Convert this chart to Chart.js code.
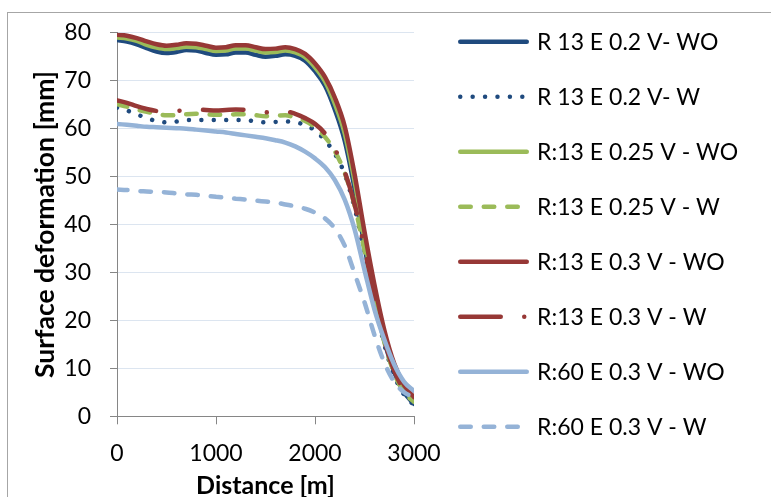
<!DOCTYPE html>
<html>
<head>
<meta charset="utf-8">
<script src="https://cdn.jsdelivr.net/npm/chart.js@4.4.1/dist/chart.umd.min.js"></script>
<style>
  html, body { margin: 0; padding: 0; background: #ffffff; }
  #wrap { position: relative; width: 771px; height: 497px; overflow: hidden; }
  #frame { position: absolute; left: 7px; top: 12px; width: 900px; height: 700px; border: 1px solid #a6a6a6; }
  #c { position: absolute; left: 0; top: 0; }
</style>
</head>
<body>
<div id="wrap">
  <div id="frame"></div>
  <canvas id="c" width="771" height="497"></canvas>
</div>
<script>
// Distance along the profile [m]
const distance = [0, 100, 200, 300, 400, 500, 600, 700, 800, 900, 1000,
  1100, 1200, 1300, 1400, 1500, 1600, 1700, 1800, 1900, 2000,
  2100, 2200, 2300, 2400, 2500, 2600, 2700, 2800, 2900, 3000];

// Surface deformation [mm] for each case
const r13e02WO = [78.5, 78.2, 77.6, 76.8, 76.1, 75.8, 76.0, 76.4, 76.3, 75.8, 75.4,
  75.5, 75.9, 75.9, 75.4, 75.0, 75.2, 75.5, 75.2, 74.2, 72.0,
  69.0, 64.0, 57.5, 47.5, 35.5, 24.5, 15.7, 9.2, 5.0, 2.6];
const r13e02W = [64.4, 63.8, 63.0, 62.2, 61.6, 61.3, 61.5, 61.8, 61.8, 61.8, 61.8,
  61.8, 61.8, 61.8, 61.5, 61.3, 61.4, 61.5, 61.3, 60.8, 59.6,
  57.6, 54.8, 50.5, 43.5, 34.0, 24.0, 15.0, 8.5, 4.5, 2.3];
const r13e025WO = [79.0, 78.8, 78.3, 77.5, 76.9, 76.6, 76.8, 77.1, 77.0, 76.6, 76.2,
  76.3, 76.7, 76.7, 76.3, 75.9, 76.0, 76.3, 75.9, 74.9, 72.8,
  69.9, 65.2, 59.0, 49.0, 37.0, 26.0, 16.8, 10.0, 5.8, 3.2];
const r13e025W = [65.1, 64.6, 64.0, 63.5, 63.1, 62.8, 62.8, 63.0, 63.1, 63.0, 62.9,
  62.9, 63.0, 63.0, 62.8, 62.6, 62.7, 62.8, 62.3, 61.6, 60.3,
  58.3, 55.3, 50.8, 44.0, 34.5, 24.5, 15.5, 9.0, 5.0, 3.0];
const r13e03WO = [79.6, 79.4, 78.9, 78.2, 77.6, 77.3, 77.5, 77.8, 77.7, 77.3, 76.9,
  77.0, 77.4, 77.4, 77.0, 76.6, 76.7, 77.0, 76.6, 75.6, 73.6,
  70.8, 66.5, 60.5, 50.5, 38.5, 27.5, 18.0, 11.0, 6.5, 4.0];
const r13e03W = [65.9, 65.4, 64.7, 64.1, 63.7, 63.6, 63.7, 63.9, 64.0, 63.9, 63.8,
  63.9, 64.0, 63.9, 63.6, 63.4, 63.5, 63.6, 63.1, 62.2, 61.0,
  59.0, 55.8, 51.0, 44.2, 35.0, 25.0, 16.0, 9.5, 5.5, 3.5];
const r60e03WO = [61.0, 60.8, 60.6, 60.4, 60.3, 60.2, 60.1, 60.0, 59.8, 59.6, 59.4,
  59.2, 58.9, 58.6, 58.3, 58.0, 57.6, 57.1, 56.3, 55.2, 53.8,
  52.0, 49.3, 45.2, 39.0, 30.5, 22.3, 16.0, 10.8, 7.2, 5.3];
const r60e03W = [47.3, 47.2, 47.0, 46.9, 46.8, 46.7, 46.5, 46.3, 46.2, 46.0, 45.8,
  45.6, 45.4, 45.2, 45.0, 44.8, 44.6, 44.2, 43.8, 43.3, 42.5,
  41.3, 39.2, 35.6, 29.8, 23.8, 17.0, 11.2, 7.2, 5.0, 4.0];

const seriesLabels = [
  'R 13 E 0.2 V- WO', 'R 13 E 0.2 V- W',
  'R:13 E 0.25 V - WO', 'R:13 E 0.25 V - W',
  'R:13 E 0.3 V - WO', 'R:13 E 0.3 V - W',
  'R:60 E 0.3 V - WO', 'R:60 E 0.3 V - W'
];
const yTicks = [0, 10, 20, 30, 40, 50, 60, 70, 80];
const xTicks = [0, 1000, 2000, 3000];

const seriesValues = [r13e02WO, r13e02W, r13e025WO, r13e025W, r13e03WO, r13e03W, r60e03WO, r60e03W];

// Line styles per series
const DARK_BLUE = '#1F4A7E', GREEN = '#9BBB59', RED = '#973836', LIGHT_BLUE = '#95B3D7';
const styles = [
  { color: DARK_BLUE, dash: [] },
  { color: DARK_BLUE, dash: [0.01, 12.4] },
  { color: GREEN, dash: [] },
  { color: GREEN, dash: [10.5, 13] },
  { color: RED, dash: [] },
  { color: RED, dash: [40.5, 23.5, 0.01, 23.5] },
  { color: LIGHT_BLUE, dash: [] },
  { color: LIGHT_BLUE, dash: [10.5, 13] }
];

const FONT = 'Lato, "Open Sans", sans-serif';

const datasets = seriesValues.map((vals, i) => ({
  label: seriesLabels[i],
  data: distance.map((d, k) => ({ x: d, y: vals[k] })),
  borderColor: styles[i].color,
  backgroundColor: styles[i].color,
  borderWidth: 4.5,
  borderDash: styles[i].dash,
  borderCapStyle: 'round',
  borderJoinStyle: 'round',
  pointRadius: 0,
  pointHoverRadius: 0,
  fill: false,
  cubicInterpolationMode: 'monotone',
  order: seriesValues.length - i
}));

// Legend drawn as line samples with the series' own dash patterns
const lineLegend = {
  id: 'lineLegend',
  afterDraw(chart, args, opts) {
    const ctx = chart.ctx;
    chart.data.datasets.forEach((ds, i) => {
      const y = opts.top + i * opts.spacing;
      ctx.save();
      ctx.strokeStyle = ds.borderColor;
      ctx.lineWidth = ds.borderWidth;
      ctx.lineCap = ds.borderCapStyle;
      ctx.setLineDash(ds.borderDash);
      ctx.beginPath();
      ctx.moveTo(opts.lineStart, y);
      ctx.lineTo(opts.lineEnd, y);
      ctx.stroke();
      ctx.setLineDash([]);
      ctx.fillStyle = opts.color;
      ctx.font = opts.font;
      ctx.textBaseline = 'middle';
      ctx.textAlign = 'left';
      ctx.fillText(ds.label, opts.textStart, y + opts.textShift);
      ctx.restore();
    });
  }
};

new Chart(document.getElementById('c'), {
  type: 'line',
  data: { datasets },
  plugins: [lineLegend],
  options: {
    responsive: false,
    animation: false,
    devicePixelRatio: 1,
    layout: { padding: { left: 0, top: 27.5, right: 357, bottom: 0 } },
    plugins: {
      legend: { display: false },
      tooltip: { enabled: false },
      lineLegend: {
        top: 41.7, spacing: 55, lineStart: 460.25, lineEnd: 526.75,
        textStart: 537, textShift: 1, color: '#000000',
        font: '23px ' + FONT
      }
    },
    scales: {
      x: {
        type: 'linear',
        min: 0, max: 3000,
        afterFit(scale) { scale.height = 80.7; },
        afterBuildTicks(scale) { scale.ticks = xTicks.map(v => ({ value: v })); },
        grid: { color: 'rgba(0,0,0,0)', drawTicks: true, tickLength: 8, tickColor: '#868686', lineWidth: 1 },
        border: { display: true, color: '#868686', width: 1 },
        ticks: {
          color: '#000000', padding: 15, maxRotation: 0,
          font: { family: FONT, size: 23 },
          callback: v => String(v)
        },
        title: {
          display: true, text: 'Distance [m]', color: '#000000',
          font: { family: FONT, size: 25, weight: 'bold' },
          padding: { top: 0, bottom: -4 }
        }
      },
      y: {
        type: 'linear',
        min: 0, max: 80,
        afterFit(scale) { scale.width = 117; },
        afterBuildTicks(scale) { scale.ticks = yTicks.map(v => ({ value: v })); },
        grid: { color: '#DCE5F0', lineWidth: 1, drawTicks: true, tickLength: 7, tickColor: '#868686' },
        border: { display: true, color: '#868686', width: 1 },
        ticks: {
          color: '#000000', padding: 19,
          font: { family: FONT, size: 23 },
          callback: v => String(v)
        },
        title: {
          display: true, text: 'Surface deformation [mm]', color: '#000000',
          font: { family: FONT, size: 26.5, weight: 'bold' },
          padding: { top: 30, bottom: 0 }
        }
      }
    }
  }
});
</script>
</body>
</html>
